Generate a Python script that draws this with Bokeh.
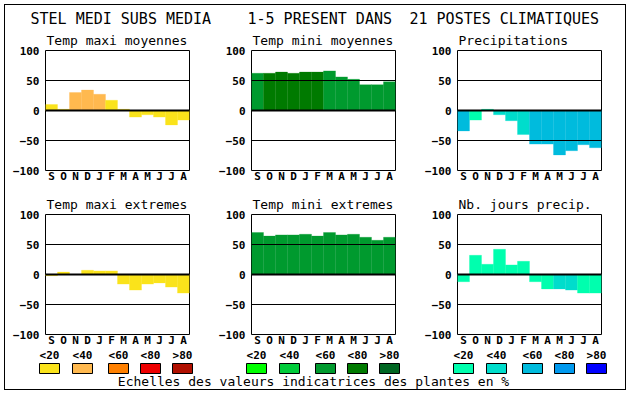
from bokeh.plotting import figure
from bokeh.layouts import column, row
from bokeh.models import Range1d, FixedTicker, Span, ColumnDataSource
from bokeh.core.properties import value
from bokeh.embed import file_html
from bokeh.resources import INLINE

# ---------------- data ----------------
months = ["S", "O", "N", "D", "J", "F", "M", "A", "M", "J", "J", "A"]
yticks = [-100, -50, 0, 50, 100]

main_title = ["STEL MEDI SUBS MEDIA", "1-5 PRESENT DANS", "21 POSTES CLIMATIQUES"]
footer = "Echelles des valeurs indicatrices des plantes en %"
scale_labels = ["<20", "<40", "<60", "<80", ">80"]

warm = ["#FAE31B", "#FFB94F", "#FF8000", "#EE0000", "#B01000"]
green = ["#00FF00", "#00CC3A", "#009A2E", "#007A00", "#006622"]
blue = ["#00FFAE", "#00DDCC", "#00BBDD", "#0099EE", "#0000FF"]

maxmoy_title = "Temp maxi moyennes"
maxmoy = [10, 2, 30, 34, 27, 17, 2, -11, -7, -11, -24, -16]
maxmoy_cls = [0, 0, 1, 1, 1, 0, 0, 0, 0, 0, 0, 0]

minmoy_title = "Temp mini moyennes"
minmoy = [62, 62, 64, 62, 64, 64, 66, 56, 52, 43, 43, 48]
minmoy_cls = [2, 3, 3, 3, 3, 3, 2, 2, 2, 2, 2, 2]

precip_title = "Precipitations"
precip = [-34, -16, 2, -7, -17, -40, -56, -56, -74, -67, -57, -62]
precip_cls = [2, 0, 0, 1, 1, 1, 2, 2, 2, 2, 2, 2]

maxext_title = "Temp maxi extremes"
maxext = [-2, 4, 0, 7, 6, 6, -16, -26, -16, -14, -21, -31]
maxext_cls = [0] * 12

minext_title = "Temp mini extremes"
minext = [70, 64, 66, 66, 67, 64, 70, 66, 67, 62, 57, 62]
minext_cls = [2] * 12

nbj_title = "Nb. jours precip."
nbj = [-12, 32, 17, 42, 16, 22, -12, -24, -24, -26, -31, -31]
nbj_cls = [0, 0, 0, 0, 0, 0, 0, 0, 1, 1, 0, 0]

# ---------------- layout constants ----------------
MONO = "DejaVu Sans Mono"
LEFT = 40
FRAME_W = 144
FRAME_H = 120
TOTAL_W = 620
HDR_H = 22
LEG_H = 40


def panel(title, vals, cls, pal, w, h, tb, bb):
    p = figure(width=w, height=h, x_range=Range1d(-0.5, 11.5),
               y_range=Range1d(-100, 100), output_backend="svg",
               toolbar_location=None, min_border_left=LEFT,
               min_border_right=w - LEFT - FRAME_W, min_border_top=tb,
               min_border_bottom=bb, title=title)
    p.outline_line_color = "black"
    p.outline_line_width = 1
    p.background_fill_color = "white"
    p.border_fill_color = "white"
    p.grid.visible = False
    p.title.align = "left"
    p.title.offset = 1
    p.title.standoff = 6
    p.title.text_font = MONO
    p.title.text_font_style = "normal"
    p.title.text_font_size = "13px"
    p.title.text_color = "black"

    src = ColumnDataSource(dict(x=list(range(len(vals))), top=vals,
                                color=[pal[c] for c in cls]))
    p.vbar(x="x", width=1, top="top", bottom=0, fill_color="color",
           line_color="color", line_width=0.3, source=src)

    for yv, lw in ((50, 1), (0, 2), (-50, 1)):
        p.add_layout(Span(location=yv, dimension="width",
                          line_color="black", line_width=lw))

    for ax in (p.xaxis, p.yaxis):
        ax.axis_line_color = None
        ax.major_tick_line_color = None
        ax.minor_tick_line_color = None
        ax.major_tick_out = 0
        ax.major_tick_in = 0
        ax.minor_tick_out = 0
        ax.minor_tick_in = 0
        ax.major_label_text_font = MONO
        ax.major_label_text_font_style = "bold"
        ax.major_label_text_font_size = "11px"
        ax.major_label_text_color = "black"
    p.yaxis.ticker = FixedTicker(ticks=yticks)
    p.yaxis.major_label_standoff = 6
    p.xaxis.ticker = FixedTicker(ticks=list(range(12)))
    p.xaxis.major_label_overrides = {i: m for i, m in enumerate(months)}
    p.xaxis.major_label_standoff = -1
    return p


# header
hdr = figure(width=TOTAL_W, height=HDR_H, x_range=Range1d(0, TOTAL_W),
             y_range=Range1d(HDR_H, 0), output_backend="svg",
             toolbar_location=None, x_axis_type=None, y_axis_type=None,
             min_border=0)
hdr.outline_line_color = None
hdr.grid.visible = False
hdr.text(x=[25, 242, 404], y=[13, 13, 13], text=main_title,
         text_font=value(MONO), text_font_size="15px",
         text_align="left", text_baseline="middle", text_color="black")

W = [206, 206, 208]
row1 = row(
    panel(maxmoy_title, maxmoy, maxmoy_cls, warm, W[0], 162, 23, 19),
    panel(minmoy_title, minmoy, minmoy_cls, green, W[1], 162, 23, 19),
    panel(precip_title, precip, precip_cls, blue, W[2], 162, 23, 19),
)
row2 = row(
    panel(maxext_title, maxext, maxext_cls, warm, W[0], 160, 25, 15),
    panel(minext_title, minext, minext_cls, green, W[1], 160, 25, 15),
    panel(nbj_title, nbj, nbj_cls, blue, W[2], 160, 25, 15),
)

# legend
leg = figure(width=TOTAL_W, height=LEG_H, x_range=Range1d(0, TOTAL_W),
             y_range=Range1d(LEG_H, 0), output_backend="svg",
             toolbar_location=None, x_axis_type=None, y_axis_type=None,
             min_border=0)
leg.outline_line_color = None
leg.grid.visible = False
box_offsets = [0, 33, 69, 101, 133]
group_left = [34, 241, 448]
lefts, colors, labels = [], [], []
for g, pal in enumerate((warm, green, blue)):
    for i in range(5):
        lefts.append(group_left[g] + box_offsets[i])
        colors.append(pal[i])
        labels.append(scale_labels[i])
rights = [l + 20 for l in lefts]
leg.quad(left=lefts, right=rights, top=[14] * 15, bottom=[24] * 15,
         fill_color=colors, line_color="black", line_width=1)
leg.text(x=[(l + r) / 2 for l, r in zip(lefts, rights)], y=[6] * 15,
         text=labels, text_font=value(MONO), text_font_style="bold",
         text_font_size="11px", text_align="center",
         text_baseline="middle", text_color="black")
leg.text(x=[308], y=[32], text=[footer], text_font=value(MONO),
         text_font_size="13px", text_align="center",
         text_baseline="middle", text_color="black")

layout = column(hdr, row1, row2, leg,
                styles={"border": "1px solid black", "background": "white",
                        "margin-left": "4px", "margin-top": "4px"})

open("out.html", "w").write(file_html(layout, INLINE))
